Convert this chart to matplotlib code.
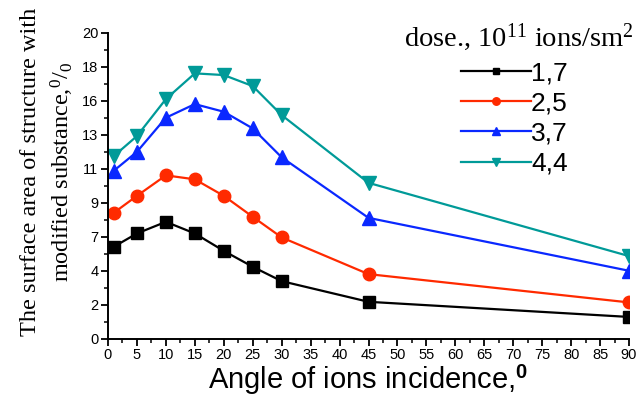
import matplotlib
matplotlib.use("Agg")
import matplotlib.pyplot as plt
from matplotlib.ticker import FixedLocator, MultipleLocator

plt.rcParams['mathtext.fontset'] = 'custom'
plt.rcParams['mathtext.rm'] = 'Liberation Serif'
plt.rcParams['mathtext.it'] = 'Liberation Serif:italic'
plt.rcParams['mathtext.bf'] = 'Liberation Sans:bold'

angles = [1, 5, 10, 15, 20, 25, 30, 45, 90]
dose_labels = ["1,7", "2,5", "3,7", "4,4"]
s17 = [6.0, 6.87, 7.63, 6.87, 5.73, 4.69, 3.75, 2.40, 1.41]
s25 = [8.22, 9.33, 10.67, 10.41, 9.33, 7.96, 6.61, 4.21, 2.36]
s37 = [10.97, 12.21, 14.44, 15.33, 14.83, 13.74, 11.85, 7.89, 4.43]
s44 = [11.93, 13.24, 15.66, 17.34, 17.23, 16.51, 14.61, 10.18, 5.39]
y_tick_labels = ["0", "2", "4", "7", "9", "11", "13", "16", "18", "20"]
x_ticks = list(range(0, 95, 5))

series = [s17, s25, s37, s44]
colors = ["#000000", "#ff2a00", "#0a28ff", "#009a98"]
markers = ["s", "o", "^", "v"]
msizes = [8, 9, 10, 10]

fig = plt.figure(figsize=(6.39, 3.96), dpi=100)
ax = fig.add_axes([108/639, 1-338.5/396, 521/639, 305.8/396])

lines = []
for vals, c, m, ms, lab in zip(series, colors, markers, msizes, dose_labels):
    ln, = ax.plot(angles, vals, color=c, marker=m, markersize=ms, lw=1.6,
                  markeredgecolor=c, label=lab)
    lines.append(ln)

ax.set_xlim(0, 90)
ax.set_ylim(0, 20)
for s in ['top', 'right']:
    ax.spines[s].set_visible(False)
for s in ['left', 'bottom']:
    ax.spines[s].set_linewidth(1.4)

yt = [20/9*k for k in range(10)]
ax.yaxis.set_major_locator(FixedLocator(yt))
ax.set_yticklabels(y_tick_labels)
ax.yaxis.set_minor_locator(FixedLocator([20/9*k + 10/9 for k in range(9)]))
ax.set_xticks(x_ticks)
ax.set_xticklabels([str(v) for v in x_ticks])
ax.xaxis.set_minor_locator(MultipleLocator(2.5))

ax.tick_params(which='major', direction='out', length=5, width=1.3, labelsize=10.5, pad=2)
ax.tick_params(which='minor', direction='out', length=3, width=1.1)
for lab in ax.get_xticklabels() + ax.get_yticklabels():
    lab.set_fontfamily('Liberation Sans')

ax.set_xlabel(r"Angle of ions incidence,$^\mathbf{0}$", fontsize=21,
              fontfamily='Liberation Sans', labelpad=1)
ax.set_ylabel("The surface area of structure with\nmodified substance," + r"$^{0}/_{0}$",
              fontsize=17.5, fontfamily='Liberation Serif', linespacing=1.4)
ax.yaxis.set_label_coords((76-108)/521, (338.5-172)/305.8)

fig.text(634/639, 1-46/396, r"dose., $10^{11}$ ions/sm$^{2}$", ha='right', va='baseline',
         fontsize=20.5, fontfamily='Liberation Serif')

leg = ax.legend(handles=lines, loc='upper left', bbox_to_anchor=(461/639, 1-61/396),
                bbox_transform=fig.transFigure, frameon=False, fontsize=19,
                handlelength=2.65, handletextpad=0.0, labelspacing=0.24,
                markerscale=0.6, borderpad=0, borderaxespad=0)
for t in leg.get_texts():
    t.set_fontfamily('Liberation Sans')

fig.savefig("out.png", dpi=100)
